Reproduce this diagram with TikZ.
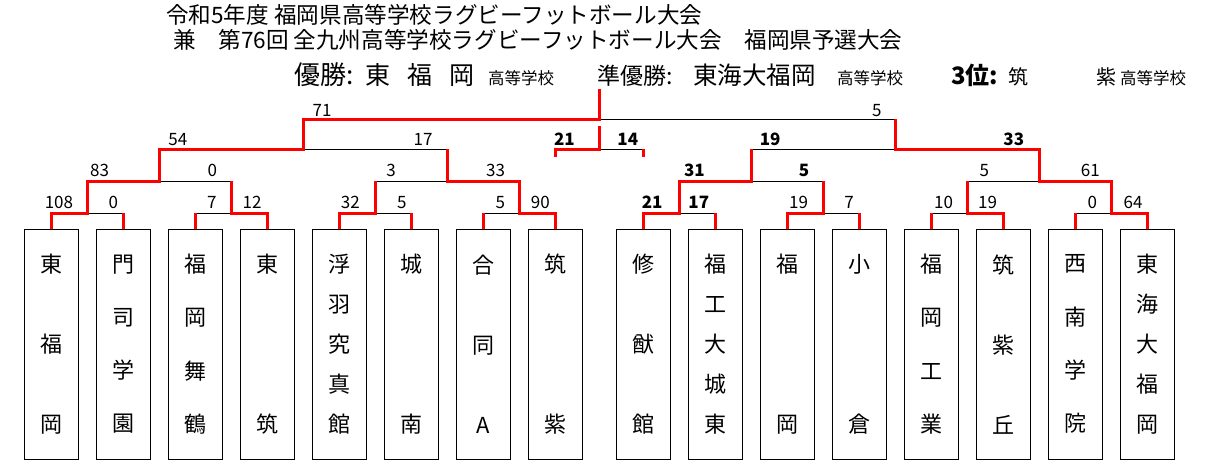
\documentclass[tikz,border=0pt]{standalone}
\usepackage{fontspec}
\setmainfont{Noto Sans CJK JP}
\usepackage{tikz}
\usetikzlibrary{positioning,calc}

\begin{document}
\begin{tikzpicture}[x=1pt, y=-1pt,
  team/.style={draw, line width=1pt, minimum width=54pt, minimum height=229.7pt,
               inner sep=0pt, outer sep=0pt, align=center},
  tate2/.style={font=\fontsize{22}{160}\selectfont},
  tate3/.style={font=\fontsize{22}{80}\selectfont},
  tate4/.style={font=\fontsize{22}{53.3}\selectfont},
  tate5/.style={font=\fontsize{22}{40}\selectfont},
  win/.style={red, line width=3pt},
  lose/.style={black, line width=1pt},
  score/.style={anchor=base east, inner sep=0pt, font=\fontsize{17}{17}\selectfont},
  bscore/.style={score, font=\fontsize{17}{17}\selectfont\bfseries},
  ttl/.style={anchor=base west, inner sep=0pt}]

\path[use as bounding box, fill=white] (0,0) rectangle (1224,461);

% titles
\node[ttl, font=\fontsize{22.6}{24}\selectfont] (Title)    at (166,23.5) {令和5年度 福岡県高等学校ラグビーフットボール大会};
\node[ttl, font=\fontsize{22.6}{24}\selectfont] (Subtitle) at (173,48.5) {兼　第76回 全九州高等学校ラグビーフットボール大会　福岡県予選大会};

\node[ttl, font=\fontsize{26}{26}\selectfont]   (Champ)        at (294,84)  {優勝:};
\node[ttl, font=\fontsize{25}{25}\selectfont]   (ChampName)    at (365,84)  {東\hspace{17pt}福\hspace{17pt}岡};
\node[ttl, font=\fontsize{16.5}{17}\selectfont] (ChampSuffix)  at (488,84)  {高等学校};
\node[ttl, font=\fontsize{23}{23}\selectfont]   (Runner)       at (597,84)  {準優勝:};
\node[ttl, font=\fontsize{24.5}{25}\selectfont] (RunnerName)   at (693,84)  {東海大福岡};
\node[ttl, font=\fontsize{16.5}{17}\selectfont] (RunnerSuffix) at (837,84)  {高等学校};
\node[ttl, font=\fontsize{24}{24}\selectfont\bfseries] (Third) at (951,84) {3位:};
\node[ttl, font=\fontsize{20}{20}\selectfont]   (ThirdA)       at (1008,84) {筑};
\node[ttl, font=\fontsize{20}{20}\selectfont]   (ThirdB)       at (1096,84) {紫};
\node[ttl, font=\fontsize{16.5}{17}\selectfont] (ThirdSuffix)  at (1120,84) {高等学校};

% teams
\node[team, tate3] (b1)                      at (51.3,344.15) {東\\福\\岡};
\node[team, tate4] (b2)  [right=18pt of b1]  {門\\司\\学\\園};
\node[team, tate4] (b3)  [right=18pt of b2]  {福\\岡\\舞\\鶴};
\node[team, tate2] (b4)  [right=18pt of b3]  {東\\筑};
\node[team, tate5] (b5)  [right=18pt of b4]  {浮\\羽\\究\\真\\館};
\node[team, tate2] (b6)  [right=18pt of b5]  {城\\南};
\node[team, tate3] (b7)  [right=18pt of b6]  {合\\同\\A};
\node[team, tate2] (b8)  [right=18pt of b7]  {筑\\紫};
\node[team, tate3] (b9)  [right=34pt of b8]  {修\\猷\\館};
\node[team, tate5] (b10) [right=18pt of b9]  {福\\工\\大\\城\\東};
\node[team, tate2] (b11) [right=18pt of b10] {福\\岡};
\node[team, tate2] (b12) [right=18pt of b11] {小\\倉};
\node[team, tate4] (b13) [right=18pt of b12] {福\\岡\\工\\業};
\node[team, tate3] (b14) [right=18pt of b13] {筑\\紫\\丘};
\node[team, tate4] (b15) [right=18pt of b14] {西\\南\\学\\院};
\node[team, tate5] (b16) [right=18pt of b15] {東\\海\\大\\福\\岡};

% match points
\foreach \m/\l/\r in {m1/b1/b2, m2/b3/b4, m3/b5/b6, m4/b7/b8,
                      m5/b9/b10, m6/b11/b12, m7/b13/b14, m8/b15/b16}
  \coordinate (\m) at ($(\l.north)!.5!(\r.north)+(0,-16.3)$);
\foreach \m/\l/\r in {m12/m1/m2, m34/m3/m4, m56/m5/m6, m78/m7/m8}
  \coordinate (\m) at ($(\l)!.5!(\r)+(0,-32)$);
\coordinate (mL)    at ($(m12)!.5!(m34)+(0,-31.7)$);
\coordinate (mR)    at ($(m56)!.5!(m78)+(0,-31.7)$);
\coordinate (final) at ($(mL)!.5!(mR)+(0,-30.3)$);
\coordinate (top)   at ($(final)+(0,-30)$);
\coordinate (p3)    at ($(final)+(0,30.3)$);
\coordinate (p3a)   at ($(p3)+(-44.3,7.2)$);
\coordinate (p3b)   at ($(p3)+(44,7.2)$);
\coordinate (p3top) at ($(p3)+(0,-23.3)$);

% losing sides
\foreach \a/\m in {b2.north/m1, b3.north/m2, b6.north/m3, b7.north/m4,
                   b10.north/m5, b12.north/m6, b13.north/m7, b15.north/m8,
                   m2/m12, m3/m34, m6/m56, m7/m78, m34/mL, m56/mR, mR/final, p3b/p3}
  \draw[lose] (\a |- \m) -- (\m);

% winning routes
\foreach \b/\m in {b2/m1, b3/m2, b6/m3, b7/m4, b10/m5, b12/m6, b13/m7, b15/m8}
  \draw[win] (\b.north) -- (\b.north |- \m);
\draw[win] (b1.north)  |- (m1) |- (m12) |- (mL) |- (final) -- (top);
\draw[win] (b4.north)  |- (m2) -- (m2 |- m12);
\draw[win] (b5.north)  |- (m3) -- (m3 |- m34);
\draw[win] (b8.north)  |- (m4) |- (m34) -- (m34 |- mL);
\draw[win] (b9.north)  |- (m5) |- (m56) -- (m56 |- mR);
\draw[win] (b11.north) |- (m6) -- (m6 |- m56);
\draw[win] (b14.north) |- (m7) -- (m7 |- m78);
\draw[win] (b16.north) |- (m8) |- (m78) |- (mR) -- (mR |- final);
\draw[win] (p3a) |- (p3) -- (p3top);
\draw[win] (p3b) -- (p3b |- p3);

% scores
\foreach \x/\y/\s [count=\i] in {73.3/208.7/108, 118.3/208.7/0, 216.7/208.7/7, 261.7/208.7/12,
    360/208.7/32, 406.7/208.7/5, 505.3/208.7/5, 550/208.7/90,
    808.3/208.7/19, 854/208.7/7, 953.3/208.7/10, 997.3/208.7/19, 1097.3/208.7/0, 1142.7/208.7/64,
    109.3/176.3/83, 217.3/176.3/0, 396/176.3/3, 505.3/176.3/33, 989.3/176.3/5, 1100/176.3/61,
    187.5/145.7/54, 432.7/145.7/17, 331.7/116.3/71, 881.7/116.3/5}
  \node[score] (s\i) at (\x,\y) {\s};
\foreach \x/\y/\s [count=\i] in {662.7/208.7/21, 709.3/208.7/17, 705/176.3/31, 809.3/176.3/5,
    780.7/145.7/19, 1024.3/145.7/33, 575/145.7/21, 638.3/145.7/14}
  \node[bscore] (w\i) at (\x,\y) {\s};

\end{tikzpicture}
\end{document}
